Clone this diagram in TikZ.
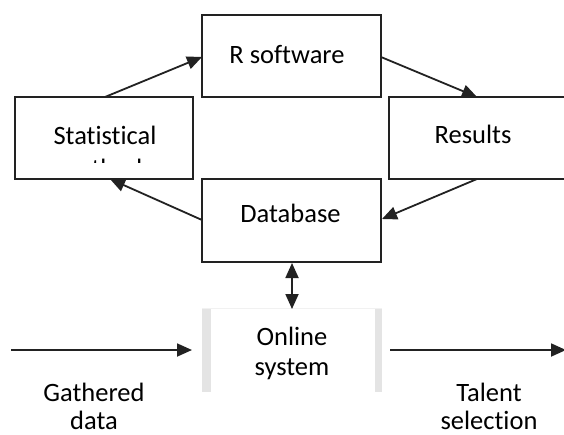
\documentclass[tikz,border=0pt]{standalone}
\usepackage{fontspec}
\setmainfont[Ligatures=NoCommon]{Carlito}
\usetikzlibrary{arrows.meta,calc}
\definecolor{lineblack}{HTML}{222222}
\definecolor{framegray}{HTML}{E4E4E4}
\tikzset{
  box/.style={draw=lineblack, line width=2pt, inner sep=0pt, fill=white},
  txt/.style={font=\fontsize{26.5}{31}\selectfont, inner sep=0pt, text=black, anchor=base},
  arr/.style={draw=lineblack, line width=1.8pt, -{Triangle[length=15pt,width=13pt]}},
  darr/.style={draw=lineblack, line width=1.8pt, {Triangle[length=15pt,width=13pt]}-{Triangle[length=15pt,width=13pt]}},
}
\begin{document}
\begin{tikzpicture}[x=1pt,y=-1pt]
\useasboundingbox[fill=white] (0,0) rectangle (564,434);
% boxes
\node[box, minimum width=179pt, minimum height=82pt] (rs) at (291.5,56) {};
\node[box, minimum width=178pt, minimum height=82pt] (st) at (104,138) {};
\node[box, minimum width=190pt, minimum height=82pt] (re) at (484,138) {};
\node[box, minimum width=179pt, minimum height=83pt] (db) at (291.5,220.5) {};
% online system frame
\fill[framegray] (202,308) rectangle (211,392);
\fill[framegray] (375,308) rectangle (382,392);
\draw[framegray!50, line width=0.6pt] (202,308.5) -- (382,308.5);
\coordinate (osN) at (292,309);
\coordinate (osW) at (192,350);
\coordinate (osE) at (390,350);
% texts
\node[txt] (rsT) at (287,63) {R software};
\node[txt] (reT) at (473,143) {Results};
\node[txt] (dbT) at (290.5,222) {Database};
\begin{scope}
\clip (15,97) rectangle (193,162);
\node[txt] (stT) at (105,144) {Statistical};
\node[txt] (stT2) at (105,177) {methods};
\end{scope}
\node[txt] (osT) at (292,345) {Online};
\node[txt] (osT2) at (292,375) {system};
\node[txt] (gd) at (94,401) {Gathered};
\node[txt, text depth=0pt] (gd2) at (94,429) {data};
\node[txt] (ts) at (489,401) {Talent};
\node[txt, text depth=0pt] (ts2) at (489,429) {selection};
% connectors
\coordinate (stTop) at (105,97);
\coordinate (stBot) at (110,179);
\coordinate (reTop) at (477,97);
\coordinate (reBot) at (477,179);
\coordinate (inStart) at (11,350);
\coordinate (outEnd) at (566,350);
\draw[arr] (stTop) -- (202,57);
\draw[arr] (381,57) -- (reTop);
\draw[arr] (reBot) -- (382,219);
\draw[arr] (202,220) -- (stBot);
\draw[darr] (db.south -| osN) -- (osN);
\draw[arr] (inStart) -- (osW);
\draw[arr] (osE) -- (outEnd);
\end{tikzpicture}
\end{document}
